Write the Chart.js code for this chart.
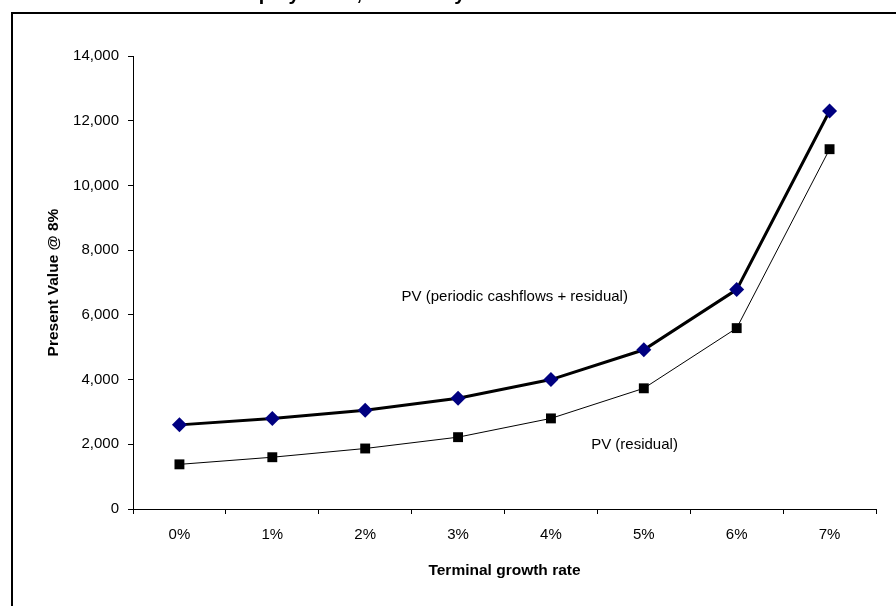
<!DOCTYPE html>
<html>
<head>
<meta charset="utf-8">
<script src="https://cdn.jsdelivr.net/npm/chart.js@4/dist/chart.umd.min.js"></script>
<style>
  html, body { margin: 0; padding: 0; background: #fff; overflow: hidden; }
  #wrap { position: relative; width: 896px; height: 606px; }
  #frame { position: absolute; left: 11px; top: 12px; width: 1000px; height: 1000px;
           border: 2px solid #000; box-sizing: border-box; pointer-events: none; }
  canvas { position: absolute; left: 0; top: 0; }
</style>
</head>
<body>
<div id="wrap">
  <div id="frame"></div>
  <canvas id="chart" width="896" height="606"></canvas>
</div>
<script>
// growth rates on the x axis
var rates = ['0%', '1%', '2%', '3%', '4%', '5%', '6%', '7%'];
// PV of periodic cashflows + residual
var pvTotal = [2600, 2800, 3050, 3420, 4000, 4920, 6780, 12300];
// PV of residual only
var pvResidual = [1380, 1600, 1870, 2220, 2800, 3730, 5590, 11120];

var FONT = '"Liberation Sans", Arial, sans-serif';

// text labels next to the lines, placed in data units (category index, value)
var notes = [
    { text: 'PV (periodic cashflows + residual)', at: 3.61, val: 6550 },
    { text: 'PV (residual)', at: 4.9, val: 1980 }
];

var labelPlugin = {
    id: 'labels',
    afterDraw: function (chart) {
        var ctx = chart.ctx;
        var xs = chart.scales.x, ys = chart.scales.y;
        ctx.save();
        ctx.fillStyle = '#000';
        ctx.font = '15px ' + FONT;
        ctx.textAlign = 'center';
        ctx.textBaseline = 'middle';
        notes.forEach(function (n) {
            ctx.fillText(n.text, xs.getPixelForValue(n.at), ys.getPixelForValue(n.val));
        });
        // chart title, mostly cut off above the top edge
        ctx.font = 'bold 20px ' + FONT;
        ctx.textBaseline = 'alphabetic';
        ctx.fillText('Equity value, sensitivity', 352, 0);
        ctx.restore();
    }
};

var chart = new Chart(document.getElementById('chart'), {
    type: 'line',
    data: {
        labels: rates,
        datasets: [{
            label: 'PV (periodic cashflows + residual)',
            data: pvTotal,
            borderColor: '#000',
            borderWidth: 3,
            pointStyle: 'rectRot',
            pointRadius: 7.5,
            pointBackgroundColor: '#000080',
            pointBorderColor: '#000080',
            pointBorderWidth: 0,
            tension: 0
        }, {
            label: 'PV (residual)',
            data: pvResidual,
            borderColor: '#000',
            borderWidth: 1,
            pointStyle: 'rect',
            pointRadius: 7,
            pointBackgroundColor: '#000',
            pointBorderColor: '#000',
            pointBorderWidth: 0,
            tension: 0
        }]
    },
    options: {
        responsive: false,
        animation: false,
        layout: { padding: { left: 20, top: 56, right: 20, bottom: 22 } },
        plugins: { legend: { display: false }, tooltip: { enabled: false } },
        scales: {
            x: {
                offset: true,
                grid: { offset: true, drawOnChartArea: false, color: '#000', tickLength: 5, tickColor: '#000' },
                border: { color: '#000', width: 1 },
                ticks: { color: '#000', padding: 12, font: { family: FONT, size: 15 } },
                title: { display: true, text: 'Terminal growth rate', color: '#000', padding: { top: 18 },
                         font: { family: FONT, size: 15.5, weight: 'bold' } },
                afterFit: function (s) { s.height = 75; }
            },
            y: {
                min: 0, max: 14000,
                ticks: { stepSize: 2000, color: '#000', padding: 9, font: { family: FONT, size: 15 },
                         callback: function (v) { return v.toLocaleString('en-US'); } },
                grid: { drawOnChartArea: false, color: '#000', tickLength: 5, tickColor: '#000' },
                border: { color: '#000', width: 1 },
                title: { display: true, text: 'Present Value @ 8%', color: '#000', padding: { top: 24, bottom: 0 },
                         font: { family: FONT, size: 15.5, weight: 'bold' } },
                afterFit: function (s) { s.width = 113; }
            }
        }
    },
    plugins: [labelPlugin]
});
</script>
</body>
</html>
